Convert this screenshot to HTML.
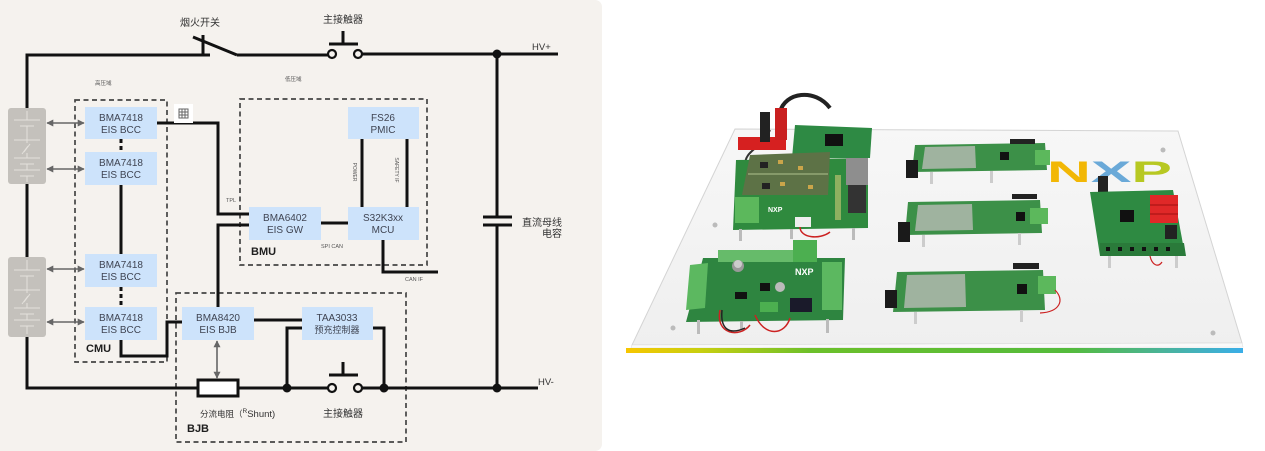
<!DOCTYPE html>
<html><head><meta charset="utf-8">
<style>
html,body{margin:0;padding:0;background:#fff;width:1265px;height:451px;overflow:hidden;}
svg{display:block;}
text{font-family:"Liberation Sans","Noto Sans CJK SC",sans-serif;}
</style></head><body>
<svg width="1265" height="451" viewBox="0 0 1265 451" xmlns="http://www.w3.org/2000/svg">
<defs>
<marker id="ah" viewBox="0 0 10 10" refX="9" refY="5" markerWidth="7" markerHeight="7" orient="auto-start-reverse" markerUnits="userSpaceOnUse">
 <path d="M0,0 L10,5 L0,10 z" fill="#666"/>
</marker>
<linearGradient id="bar" x1="0" x2="1">
 <stop offset="0" stop-color="#f7c600"/>
 <stop offset="0.12" stop-color="#c8cf10"/>
 <stop offset="0.3" stop-color="#6cc02a"/>
 <stop offset="0.72" stop-color="#54bb3c"/>
 <stop offset="0.88" stop-color="#49b3a0"/>
 <stop offset="1" stop-color="#3aaee8"/>
</linearGradient>
<linearGradient id="plate" x1="0" y1="0" x2="0" y2="1">
 <stop offset="0" stop-color="#f7f7f7"/>
 <stop offset="1" stop-color="#efefef"/>
</linearGradient>
</defs>

<!-- LEFT PANEL -->
<rect x="-10" y="0" width="612" height="451" rx="7" fill="#f5f2ee"/>

<!-- dashed domain boxes -->
<g fill="none" stroke="#444" stroke-width="1.7" stroke-dasharray="5,3.5">
 <rect x="75" y="100" width="92" height="262"/>
 <rect x="240" y="99" width="187" height="166"/>
 <rect x="176" y="293" width="230" height="149"/>
</g>

<!-- battery packs -->
<g>
 <rect x="8" y="108" width="38" height="76" rx="3" fill="#c4c1bc"/>
 <rect x="8" y="257" width="38" height="80" rx="3" fill="#c4c1bc"/>
 <g stroke="#e4e1dc" stroke-width="1" fill="none">
  <path d="M27,111 V120 M14,120 H40 M20,126 H34 M27,126 V140 M14,140 H40 M27,140 V143 M24,152 L30,144 M22,154 L28,146 M27,153 V158 M14,158 H40 M20,164 H34 M27,164 V170 M14,170 H40 M20,176 H34 M27,176 V182"/>
  <path d="M27,260 V270 M14,270 H40 M20,276 H34 M27,276 V290 M14,290 H40 M27,290 V293 M24,302 L30,294 M22,304 L28,296 M27,303 V308 M14,308 H40 M20,314 H34 M27,314 V320 M14,320 H40 M20,326 H34 M27,326 V334"/>
 </g>
</g>

<!-- main power wires -->
<g fill="none" stroke="#111" stroke-width="3">
 <path d="M27,108 V55 H210"/>
 <path d="M203,35 V55"/>
 <path d="M193,37 L237,55"/>
 <path d="M237,55 H328"/>
 <path d="M329,44 H358 M343,31 V44"/>
 <path d="M362,54 H558"/>
 <path d="M497,54 V217"/>
 <path d="M483,217 H512 M483,225 H512"/>
 <path d="M497,225 V388"/>
 <path d="M27,184 V257"/>
 <path d="M27,337 V388 H198"/>
 <path d="M238,388 H328"/>
 <path d="M329,375 H358 M343,362 V375"/>
 <path d="M362,388 H538"/>
</g>
<g fill="#f5f2ee" stroke="#111" stroke-width="2.2">
 <circle cx="332" cy="54" r="4"/>
 <circle cx="358" cy="54" r="4"/>
 <circle cx="332" cy="388" r="4"/>
 <circle cx="358" cy="388" r="4"/>
</g>
<rect x="198" y="380" width="40" height="16" fill="#fff" stroke="#111" stroke-width="3"/>
<g fill="#111">
 <circle cx="497" cy="54" r="4.5"/>
 <circle cx="497" cy="388" r="4.5"/>
 <circle cx="287" cy="388" r="4.5"/>
 <circle cx="384" cy="388" r="4.5"/>
</g>

<!-- signal wires -->
<g fill="none" stroke="#111" stroke-width="3">
 <path d="M121,185 V254"/>
 <path d="M121,340 V356 H167 V322 H182"/>
 <path d="M157,123 H218 V214 H249"/>
 <path d="M249,225 H218 V307"/>
 <path d="M321,223 H348"/>
 <path d="M362,139 V207 M407,139 V207"/>
 <path d="M383,240 V272 H438"/>
 <path d="M254,320 H302"/>
 <path d="M302,328 H287 V388"/>
 <path d="M373,328 H384 V388"/>
</g>
<g fill="none" stroke="#111" stroke-width="3" stroke-dasharray="4,3">
 <path d="M121,139 V152"/>
 <path d="M121,287 V307"/>
</g>

<!-- gray arrows -->
<g stroke="#666" stroke-width="1.6" marker-start="url(#ah)" marker-end="url(#ah)">
 <line x1="47" y1="123" x2="84" y2="123"/>
 <line x1="47" y1="169" x2="84" y2="169"/>
 <line x1="47" y1="269" x2="84" y2="269"/>
 <line x1="47" y1="322" x2="84" y2="322"/>
 <line x1="217" y1="341" x2="217" y2="378"/>
</g>

<!-- blue boxes -->
<g fill="#cde3fb">
 <rect x="85" y="107" width="72" height="32"/>
 <rect x="85" y="152" width="72" height="33"/>
 <rect x="85" y="254" width="72" height="33"/>
 <rect x="85" y="307" width="72" height="33"/>
 <rect x="249" y="207" width="72" height="33"/>
 <rect x="348" y="207" width="71" height="33"/>
 <rect x="348" y="107" width="71" height="32"/>
 <rect x="182" y="307" width="72" height="33"/>
 <rect x="302" y="307" width="71" height="33"/>
</g>
<g font-size="10" fill="#3f4452" text-anchor="middle">
 <text x="121" y="121">BMA7418</text><text x="121" y="133">EIS BCC</text>
 <text x="121" y="166">BMA7418</text><text x="121" y="178">EIS BCC</text>
 <text x="121" y="268">BMA7418</text><text x="121" y="280">EIS BCC</text>
 <text x="121" y="321">BMA7418</text><text x="121" y="333">EIS BCC</text>
 <text x="285" y="221">BMA6402</text><text x="285" y="233">EIS GW</text>
 <text x="383" y="221">S32K3xx</text><text x="383" y="233">MCU</text>
 <text x="383" y="121">FS26</text><text x="383" y="133">PMIC</text>
 <text x="218" y="321">BMA8420</text><text x="218" y="333">EIS BJB</text>
 <text x="337" y="321">TAA3033</text><text x="337" y="333" font-size="9">预充控制器</text>
</g>

<!-- small icon -->
<rect x="174" y="104" width="19" height="19" fill="#fff"/>
<g stroke="#666" stroke-width="1" fill="none">
 <rect x="179" y="109" width="9" height="9"/>
 <path d="M179,112 H188 M179,115 H188 M182,109 V118 M185,109 V118"/>
</g>

<!-- labels -->
<g fill="#333">
 <text x="200" y="26" font-size="10" text-anchor="middle">烟火开关</text>
 <text x="343" y="23" font-size="10" text-anchor="middle">主接触器</text>
 <text x="343" y="417" font-size="10" text-anchor="middle">主接触器</text>
 <text x="532" y="50" font-size="9.5">HV+</text>
 <text x="538" y="385" font-size="9.5">HV-</text>
 <text x="522" y="226" font-size="10">直流母线</text>
 <text x="562" y="237" font-size="10" text-anchor="end">电容</text>
 <text x="200" y="417" font-size="8.5">分流电阻（<tspan font-size="6.5" dy="-4">R</tspan><tspan font-size="9.5" dy="4">Shunt)</tspan></text>
</g>
<g fill="#555" font-size="5.5">
 <text x="95" y="85">高压域</text>
 <text x="285" y="81">低压域</text>
 <text x="226" y="202">TPL</text>
 <text x="321" y="248">SPI CAN</text>
 <text x="405" y="281">CAN IF</text>
 <text transform="translate(353,172) rotate(90)" text-anchor="middle" font-size="5">POWER</text>
 <text transform="translate(395,170) rotate(90)" text-anchor="middle" font-size="5">SAFETY IF</text>
</g>
<g fill="#1e1e1e" font-size="11" font-weight="bold">
 <text x="251" y="255">BMU</text>
 <text x="86" y="352">CMU</text>
 <text x="187" y="432">BJB</text>
</g>

<!-- RIGHT PHOTO -->
<polygon points="735,129 1178,131 1242,343 632,345" fill="url(#plate)" stroke="#d4d4d4" stroke-width="1"/>
<polygon points="632,345 1242,343 1243,347 631,348" fill="#fafafa" stroke="#e0e0e0" stroke-width="0.6"/>
<rect x="626" y="348" width="617" height="5" fill="url(#bar)"/>
<!-- plate screws -->
<g fill="#bbb"><circle cx="715" cy="225" r="2.5"/><circle cx="673" cy="328" r="2.5"/><circle cx="1163" cy="150" r="2.5"/><circle cx="1213" cy="333" r="2.5"/></g>

<!-- NXP logo -->
<text x="1047" y="182" font-size="30" font-weight="bold" textLength="125" lengthAdjust="spacingAndGlyphs"><tspan fill="#f2b705">N</tspan><tspan fill="#6aa9d8">X</tspan><tspan fill="#b7c822">P</tspan></text>

<!-- Board A top-left stack -->
<g>
 <path d="M780,112 C785,92 815,88 830,108" stroke="#222" stroke-width="4" fill="none"/>
 <path d="M770,130 C760,150 745,150 745,165" stroke="#333" stroke-width="2" fill="none"/>
 <polygon points="736,160 868,158 868,228 733,230" fill="#2f8a3e"/>
 <g fill="#bbb"><rect x="739" y="229" width="3" height="12"/><rect x="790" y="229" width="3" height="10"/><rect x="852" y="228" width="3" height="12"/></g>
 <rect x="735" y="197" width="24" height="26" fill="#5cb85c"/>
 <rect x="846" y="150" width="22" height="35" fill="#8e8e8e"/>
 <rect x="848" y="185" width="18" height="28" fill="#333"/>
 <rect x="835" y="175" width="6" height="45" fill="#8fb060"/>
 <polygon points="795,125 872,128 870,158 792,158" fill="#2e8a44"/>
 <rect x="825" y="134" width="18" height="12" fill="#111"/>
 <polygon points="750,155 830,152 828,195 742,195" fill="#5d7246"/>
 <path d="M748,174 H828" stroke="#869a6a" stroke-width="2"/>
 <g fill="#caa54a"><rect x="778" y="160" width="5" height="4"/><rect x="798" y="166" width="5" height="4"/><rect x="780" y="182" width="5" height="4"/><rect x="808" y="185" width="5" height="4"/></g>
 <g fill="#222"><rect x="760" y="162" width="8" height="6"/><rect x="762" y="183" width="8" height="6"/></g>
 <rect x="738" y="137" width="48" height="13" fill="#d62020"/>
 <rect x="775" y="108" width="12" height="32" fill="#c92020"/>
 <rect x="760" y="112" width="10" height="30" fill="#222"/>
 <rect x="795" y="217" width="16" height="10" fill="#eee"/>
 <path d="M800,227 C800,238 820,240 830,232" stroke="#c22" stroke-width="1.5" fill="none"/>
 <text x="768" y="212" font-size="7" font-weight="bold" fill="#fff">NXP</text>
</g>

<!-- Board B bottom-left -->
<g>
 <polygon points="703,258 845,258 843,320 686,322" fill="#2e8540"/>
 <rect x="718" y="250" width="85" height="12" fill="#66bb6a"/>
 <rect x="793" y="240" width="24" height="22" fill="#4caf50"/>
 <polygon points="690,265 708,263 705,308 686,310" fill="#5cb860"/>
 <rect x="822" y="262" width="20" height="48" fill="#5cb860"/>
 <circle cx="738" cy="266" r="6" fill="#999"/>
 <circle cx="738" cy="264" r="4" fill="#ccc"/>
 <circle cx="780" cy="287" r="5" fill="#bbb"/>
 <rect x="790" y="298" width="22" height="14" fill="#1a1a2a"/>
 <rect x="760" y="283" width="10" height="8" fill="#111"/>
 <rect x="735" y="292" width="12" height="7" fill="#111"/>
 <rect x="760" y="302" width="18" height="10" fill="#4caf50"/>
 <text x="795" y="275" font-size="9" font-weight="bold" fill="#fff">NXP</text>
 <g fill="#bbb"><rect x="697" y="320" width="3" height="14"/><rect x="826" y="319" width="3" height="14"/><rect x="740" y="321" width="3" height="8"/></g>
 <path d="M720,310 C715,335 740,338 750,325 M755,315 C765,338 785,335 790,318" stroke="#c22" stroke-width="1.5" fill="none"/>
 <path d="M722,310 C720,330 730,335 745,328" stroke="#222" stroke-width="1.5" fill="none"/>
</g>

<!-- Boards C middle column -->
<g>
 <polygon points="915,145 1045,143 1047,170 912,172" fill="#3c9048"/>
 <polygon points="925,147 975,146 976,168 922,169" fill="#9fb39f"/>
 <rect x="906" y="160" width="12" height="18" fill="#1a1a1a"/>
 <rect x="1010" y="139" width="25" height="5" fill="#222"/>
 <rect x="1035" y="150" width="15" height="15" fill="#5cb85c"/>
 <rect x="1000" y="152" width="9" height="8" fill="#111"/>
 <g fill="#ccc"><rect x="930" y="172" width="3" height="12"/><rect x="990" y="171" width="3" height="12"/></g>

 <polygon points="908,202 1040,200 1042,233 905,235" fill="#3c9048"/>
 <polygon points="918,205 972,204 973,230 915,231" fill="#9fb39f"/>
 <rect x="898" y="222" width="12" height="20" fill="#1a1a1a"/>
 <rect x="1012" y="194" width="25" height="5" fill="#222"/>
 <rect x="1030" y="208" width="18" height="16" fill="#5cb85c"/>
 <rect x="1016" y="212" width="9" height="9" fill="#111"/>
 <g fill="#ccc"><rect x="922" y="235" width="3" height="12"/><rect x="1018" y="233" width="3" height="12"/></g>

 <polygon points="897,272 1043,270 1045,310 893,312" fill="#3c9048"/>
 <polygon points="907,275 965,274 966,307 904,308" fill="#9fb39f"/>
 <rect x="885" y="290" width="12" height="18" fill="#1a1a1a"/>
 <rect x="1013" y="263" width="26" height="6" fill="#222"/>
 <rect x="1038" y="276" width="18" height="18" fill="#5cb85c"/>
 <rect x="1017" y="284" width="10" height="10" fill="#111"/>
 <path d="M1055,290 C1065,300 1060,312 1040,313" stroke="#c22" stroke-width="1.2" fill="none"/>
 <g fill="#ccc"><rect x="914" y="312" width="3" height="12"/><rect x="1020" y="310" width="3" height="12"/></g>
</g>

<!-- Board D right -->
<g>
 <rect x="1098" y="176" width="10" height="22" fill="#222"/>
 <polygon points="1090,192 1173,190 1185,255 1100,256" fill="#2e8a42"/>
 <rect x="1150" y="195" width="28" height="28" fill="#e02828"/>
 <path d="M1150,205 H1178 M1150,214 H1178" stroke="#a01010" stroke-width="1"/>
 <rect x="1120" y="210" width="14" height="12" fill="#111"/>
 <rect x="1165" y="225" width="12" height="14" fill="#222"/>
 <polygon points="1100,243 1184,243 1186,256 1100,256" fill="#2a7a3a"/>
 <g fill="#111"><rect x="1106" y="247" width="4" height="4"/><rect x="1118" y="247" width="4" height="4"/><rect x="1130" y="247" width="4" height="4"/><rect x="1142" y="247" width="4" height="4"/><rect x="1154" y="247" width="4" height="4"/><rect x="1166" y="247" width="4" height="4"/></g>
 <g fill="#ccc"><rect x="1108" y="256" width="3" height="12"/><rect x="1175" y="256" width="3" height="12"/></g>
 <path d="M1150,256 C1152,265 1158,268 1162,262" stroke="#c22" stroke-width="1.2" fill="none"/>
</g>
</svg>
</body></html>
